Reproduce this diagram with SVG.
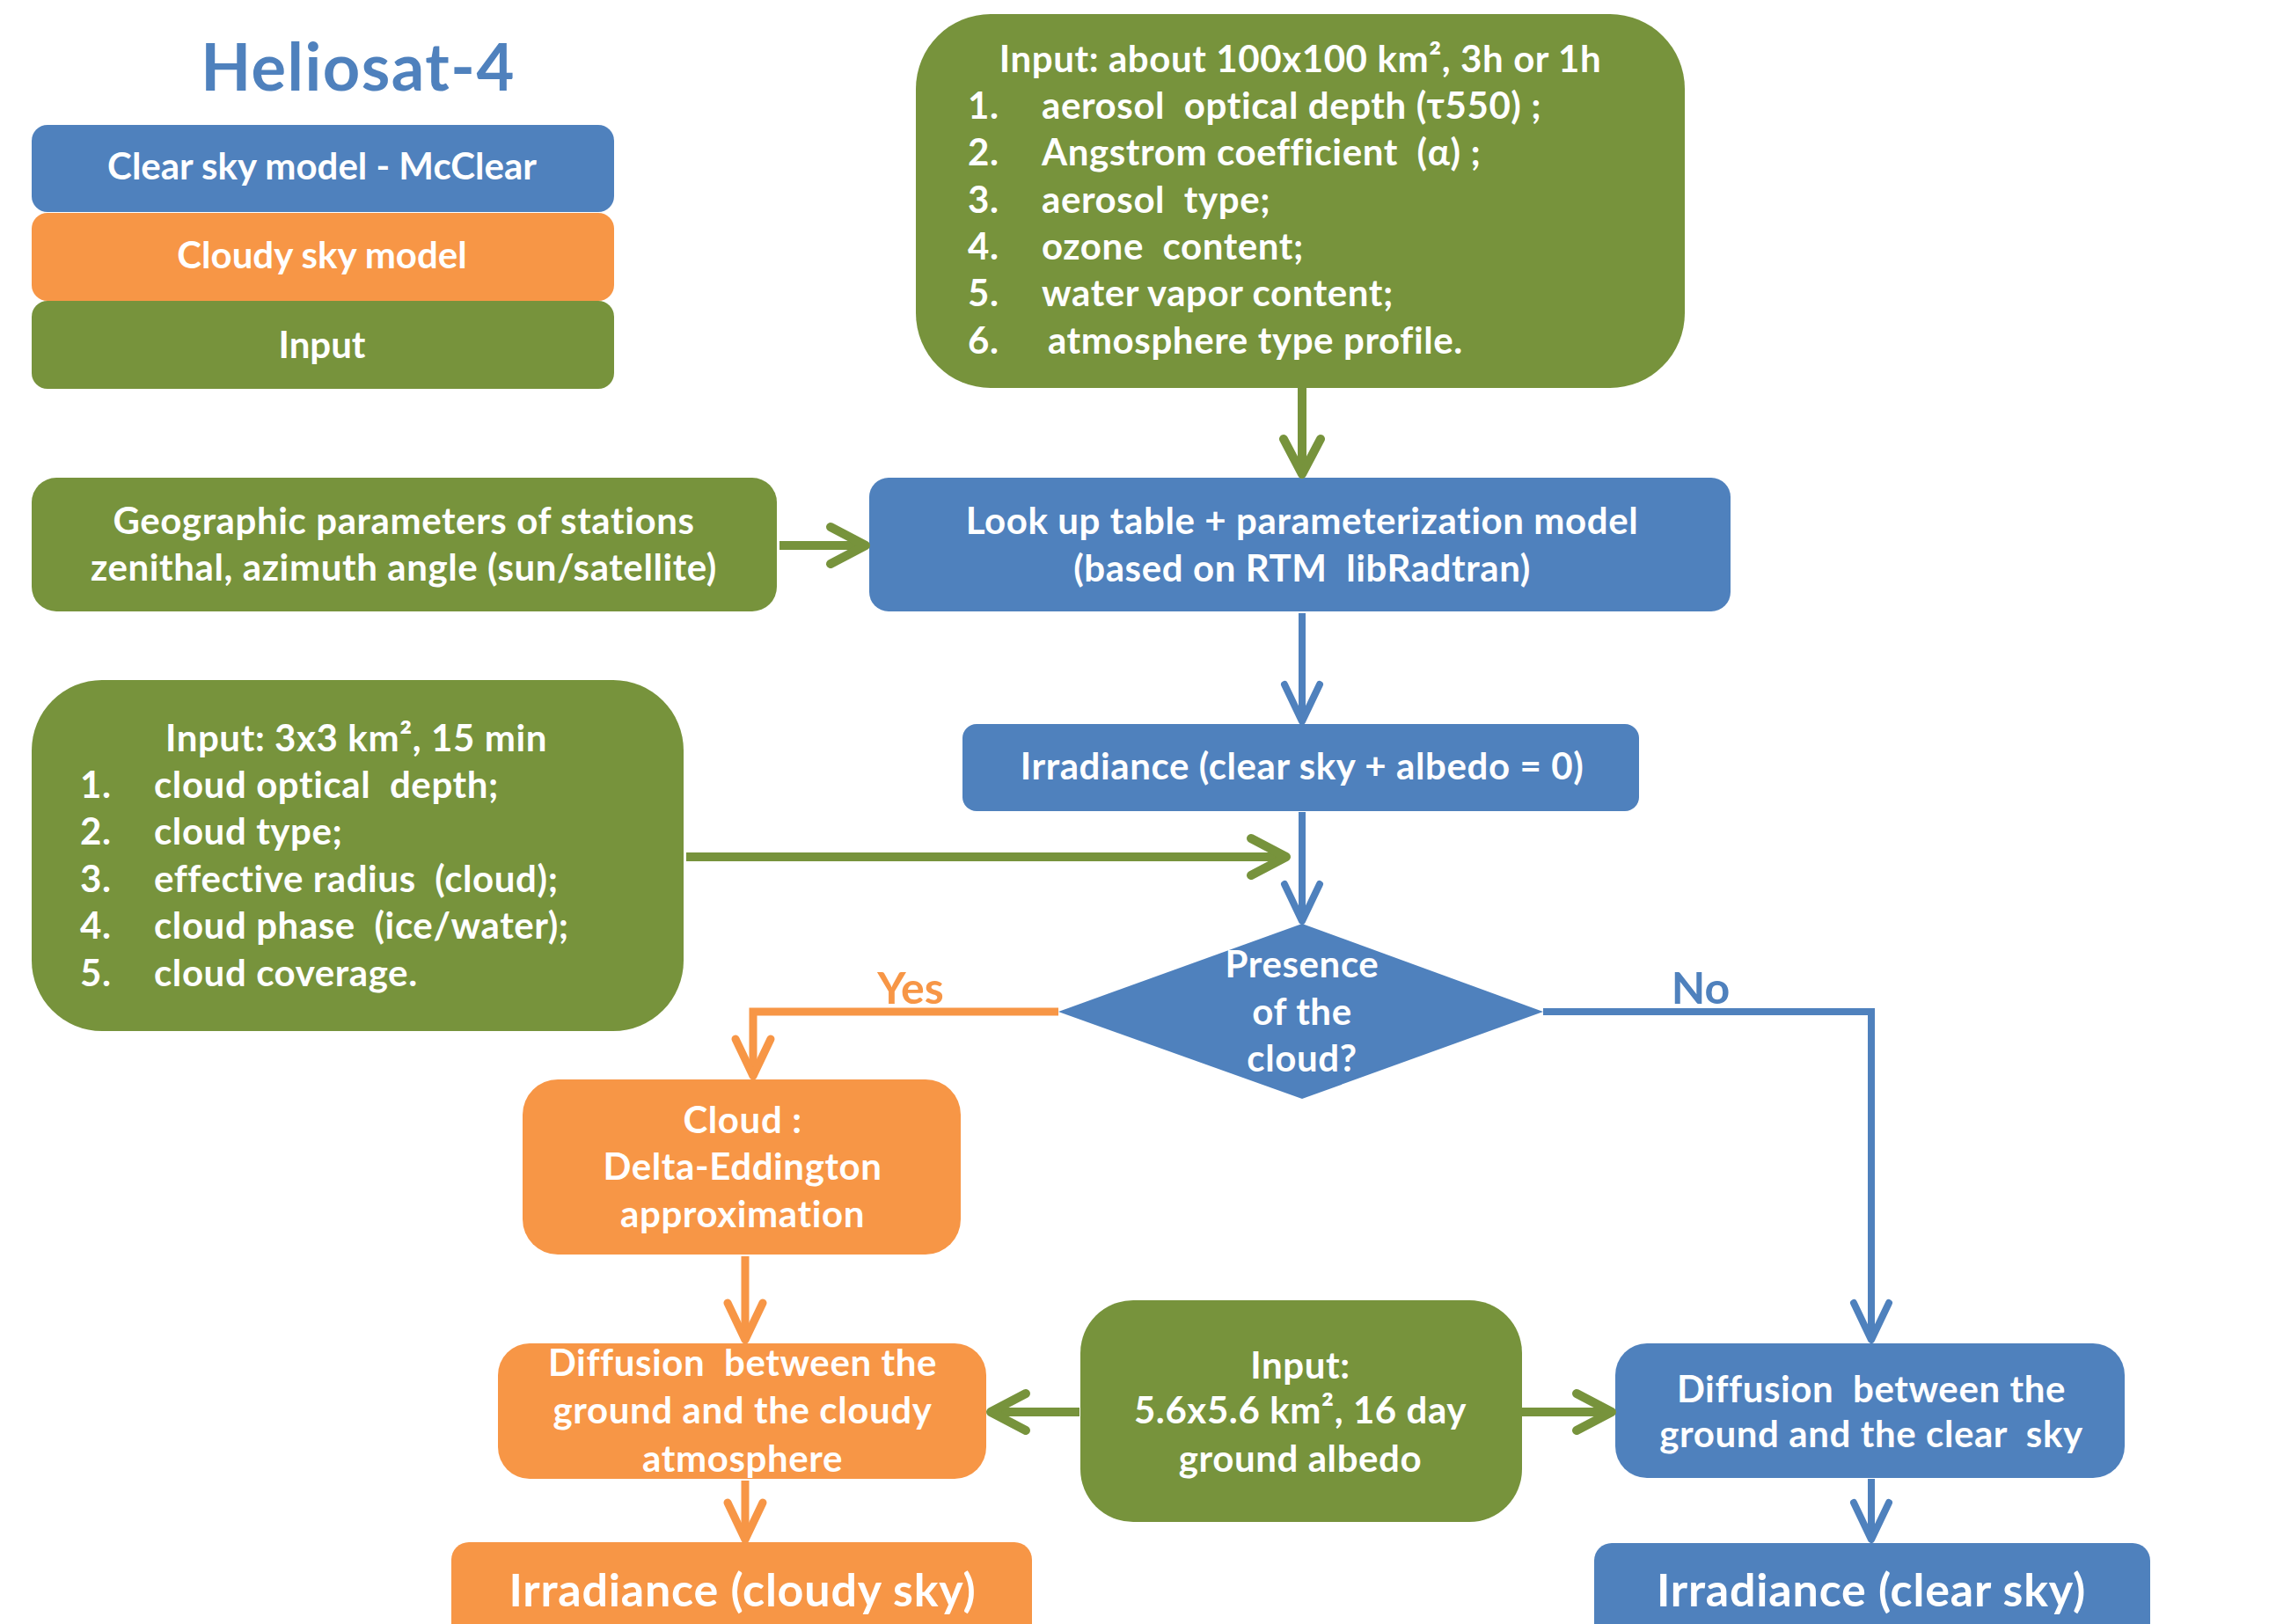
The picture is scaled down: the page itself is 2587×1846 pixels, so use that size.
<svg xmlns="http://www.w3.org/2000/svg" width="2587" height="1846" viewBox="0 0 2587 1846">
<style>
.t{font-family:Lato,"Open Sans","DejaVu Sans",sans-serif;font-weight:bold;fill:#fff;white-space:pre}
.c{text-anchor:middle}
.b{fill:#4F81BD}.o{fill:#F79646}.g{fill:#77933C}
.s{font-size:42px;letter-spacing:0.6px}.e{font-size:42px}.L{font-size:52px;letter-spacing:0.8px}
.ln{fill:none;stroke-linejoin:miter}
.lb{stroke:#4F81BD;stroke-width:8}
.lo{stroke:#F79646;stroke-width:9}
.lg{stroke:#77933C;stroke-width:10}
</style>
<defs>
<marker id="ab" markerUnits="userSpaceOnUse" orient="auto" refX="0" refY="0" markerWidth="10" markerHeight="10" overflow="visible"><path d="M-42,-20 L0,0 L-42,20" fill="none" stroke="#4F81BD" stroke-width="8" stroke-linecap="round" stroke-linejoin="round"/></marker>
<marker id="ao" markerUnits="userSpaceOnUse" orient="auto" refX="0" refY="0" markerWidth="10" markerHeight="10" overflow="visible"><path d="M-42,-20 L0,0 L-42,20" fill="none" stroke="#F79646" stroke-width="9" stroke-linecap="round" stroke-linejoin="round"/></marker>
<marker id="ag" markerUnits="userSpaceOnUse" orient="auto" refX="0" refY="0" markerWidth="10" markerHeight="10" overflow="visible"><path d="M-40,-21 L0,0 L-40,21" fill="none" stroke="#77933C" stroke-width="10" stroke-linecap="round" stroke-linejoin="round"/></marker>
</defs>
<rect width="2587" height="1846" fill="#fff"/>
<g id="title"><text class="t c" x="407" y="103" style="font-size:74px;letter-spacing:1.5px;fill:#4F81BD">Heliosat-4</text></g>
<g id="legend-clear"><rect class="b" x="36" y="142" width="662" height="99" rx="18"/><text class="t c e" x="366" y="204">Clear sky model - McClear</text></g>
<g id="legend-cloudy"><rect class="o" x="36" y="242" width="662" height="100" rx="18"/><text class="t c e" x="366" y="305">Cloudy sky model</text></g>
<g id="legend-input"><rect class="g" x="36" y="342" width="662" height="100" rx="18"/><text class="t c e" x="366" y="407">Input</text></g>
<g id="input-atmos">
<rect class="g" x="1041" y="16" width="874" height="425" rx="85"/>
<text class="t c s" x="1478" y="82">Input: about 100x100 km², 3h or 1h</text>
<text class="t s" x="1100" y="135">1.</text><text class="t s" x="1184" y="135">aerosol  optical depth (τ550) ;</text>
<text class="t s" x="1100" y="188">2.</text><text class="t s" x="1184" y="188">Angstrom coefficient  (α) ;</text>
<text class="t s" x="1100" y="242">3.</text><text class="t s" x="1184" y="242">aerosol  type;</text>
<text class="t s" x="1100" y="295">4.</text><text class="t s" x="1184" y="295">ozone  content;</text>
<text class="t s" x="1100" y="348">5.</text><text class="t s" x="1184" y="348">water vapor content;</text>
<text class="t s" x="1100" y="402">6.</text><text class="t s" x="1191" y="402">atmosphere type profile.</text>
</g>
<g id="geo"><rect class="g" x="36" y="543" width="847" height="152" rx="28"/>
<text class="t c s" x="459" y="607">Geographic parameters of stations</text>
<text class="t c s" x="459" y="660">zenithal, azimuth angle (sun/satellite)</text></g>
<g id="lookup"><rect class="b" x="988" y="543" width="979" height="152" rx="22"/>
<text class="t c s" x="1480" y="607">Look up table + parameterization model</text>
<text class="t c s" x="1480" y="661">(based on RTM  libRadtran)</text></g>
<g id="irr-albedo0"><rect class="b" x="1094" y="823" width="769" height="99" rx="16"/>
<text class="t c s" x="1480" y="886">Irradiance (clear sky + albedo = 0)</text></g>
<g id="input-cloud"><rect class="g" x="36" y="773" width="741" height="399" rx="80"/>
<text class="t c s" x="405" y="854">Input: 3x3 km², 15 min</text>
<text class="t s" x="91" y="907">1.</text><text class="t s" x="175" y="907">cloud optical  depth;</text>
<text class="t s" x="91" y="960">2.</text><text class="t s" x="175" y="960">cloud type;</text>
<text class="t s" x="91" y="1014">3.</text><text class="t s" x="175" y="1014">effective radius  (cloud);</text>
<text class="t s" x="91" y="1067">4.</text><text class="t s" x="175" y="1067">cloud phase  (ice/water);</text>
<text class="t s" x="91" y="1121">5.</text><text class="t s" x="175" y="1121">cloud coverage.</text></g>
<g id="decision"><polygon class="b" points="1480,1050 1754,1150 1480,1249 1203,1150"/>
<text class="t c s" x="1480" y="1111">Presence</text>
<text class="t c s" x="1480" y="1165">of the</text>
<text class="t c s" x="1480" y="1218">cloud?</text></g>
<g id="cloud-de"><rect class="o" x="594" y="1227" width="498" height="199" rx="40"/>
<text class="t c s" x="844" y="1288">Cloud :</text>
<text class="t c s" x="844" y="1341">Delta-Eddington</text>
<text class="t c s" x="844" y="1395">approximation</text></g>
<g id="diff-cloudy"><rect class="o" x="566" y="1527" width="555" height="154" rx="36"/>
<text class="t c s" x="844" y="1564">Diffusion  between the</text>
<text class="t c s" x="844" y="1618">ground and the cloudy</text>
<text class="t c s" x="844" y="1673">atmosphere</text></g>
<g id="input-albedo"><rect class="g" x="1228" y="1478" width="502" height="252" rx="60"/>
<text class="t c s" x="1478" y="1567">Input:</text>
<text class="t c s" x="1478" y="1618">5.6x5.6 km², 16 day</text>
<text class="t c s" x="1478" y="1673">ground albedo</text></g>
<g id="diff-clear"><rect class="b" x="1836" y="1527" width="579" height="153" rx="36"/>
<text class="t c s" x="2127" y="1594">Diffusion  between the</text>
<text class="t c s" x="2127" y="1645">ground and the clear  sky</text></g>
<g id="irr-cloudy"><rect class="o" x="513" y="1753" width="660" height="120" rx="20"/>
<text class="t c L" x="844" y="1826">Irradiance (cloudy sky)</text></g>
<g id="irr-clear"><rect class="b" x="1812" y="1754" width="632" height="120" rx="20"/>
<text class="t c L" x="2127" y="1826">Irradiance (clear sky)</text></g>
<g id="connectors">
<path class="ln lg" d="M1480,441 L1480,539" marker-end="url(#ag)"/>
<path class="ln lg" d="M886,620 L984,620" marker-end="url(#ag)"/>
<path class="ln lb" d="M1480,697 L1480,820" marker-end="url(#ab)"/>
<path class="ln lb" d="M1480,923 L1480,1047" marker-end="url(#ab)"/>
<path class="ln lg" d="M780,974 L1462,974" marker-end="url(#ag)"/>
<path class="ln lo" d="M1203,1150 L856,1150 L856,1223" marker-end="url(#ao)"/>
<path class="ln lb" d="M1754,1150 L2127,1150 L2127,1523" marker-end="url(#ab)"/>
<path class="ln lo" d="M847,1428 L847,1523" marker-end="url(#ao)"/>
<path class="ln lo" d="M847,1683 L847,1750" marker-end="url(#ao)"/>
<path class="ln lg" d="M1227,1605 L1126,1605" marker-end="url(#ag)"/>
<path class="ln lg" d="M1730,1605 L1832,1605" marker-end="url(#ag)"/>
<path class="ln lb" d="M2127,1681 L2127,1750" marker-end="url(#ab)"/>
<text class="t c" x="1035" y="1141" style="font-size:50px;fill:#F79646">Yes</text>
<text class="t c" x="1933" y="1141" style="font-size:50px;fill:#4F81BD">No</text>
</g>
</svg>
